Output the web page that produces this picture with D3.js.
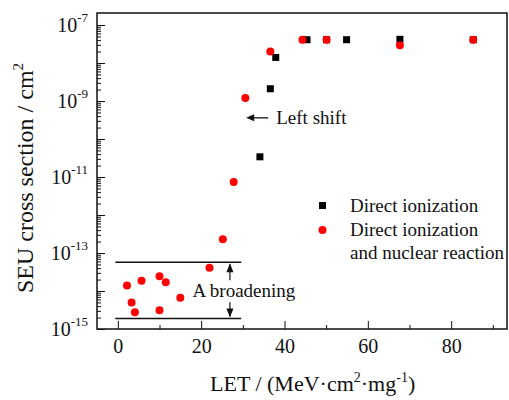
<!DOCTYPE html>
<meta charset="utf-8">
<style>
    body { margin: 0; background: #fff; }
    text {
        font-family: "Liberation Serif", "Times New Roman", serif;
        fill: #111;
    }
    .axis path, .axis line { stroke: #111; }
    .frame { fill: none; stroke: #111; stroke-width: 1.5px; }
</style>
<body>
<svg width="509" height="400"></svg>
</body>
<script src="https://d3js.org/d3.v7.min.js"></script>
<script>

    // direct ionization (black squares)
    var letDirect = [34.1, 36.6, 37.9, 45.4, 50.1, 54.9, 67.7, 85.3];
    var seuDirect = [3.4e-11, 2.1e-9, 1.4e-8, 4.1e-8, 4.1e-8, 4.1e-8, 4.2e-8, 4.1e-8];

    // direct ionization and nuclear reaction (red circles)
    var letNuclear = [2.2, 3.3, 4.1, 5.7, 10.0, 10.0, 11.5, 15.0, 22.0, 25.2, 27.8, 30.6, 36.6, 44.3, 50.1, 67.7, 85.3];
    var seuNuclear = [1.4e-14, 5.0e-15, 2.75e-15, 1.86e-14, 2.45e-14, 3.1e-15, 1.7e-14, 6.6e-15, 4.1e-14, 2.3e-13,
                      7.4e-12, 1.2e-9, 2.0e-8, 4.1e-8, 4.1e-8, 2.95e-8, 4.1e-8];

    var xTicks = [0, 20, 40, 60, 80];
    var xMinorTicks = [10, 30, 50, 70, 90];
    var yLabelExps = [-15, -13, -11, -9, -7];

    // annotations (data units)
    var bandTop = 5.7e-14, bandBottom = 1.9e-15, bandX = [-0.6, 29.6], bandArrowX = 26.9;
    var shiftArrow = {x1: 36.1, x2: 30.8, y: 3.6e-10};

    var svg = d3.select("svg");
    var margin = {left: 97, top: 13, right: 2, bottom: 71};
    var width = 509 - margin.left - margin.right,
        height = 400 - margin.top - margin.bottom;
    var g = svg.append("g").attr("transform", "translate(" + margin.left + "," + margin.top + ")");

    var x = d3.scaleLinear().domain([-5, 93.4]).range([0, width]);
    var y = d3.scaleLog().domain([1e-15, Math.pow(10, -15 + height / 38)]).range([height, 0]);

    // y axis: major ticks each decade, minor 2..9
    var majors = d3.range(-15, -6).map(function (e) { return Math.pow(10, e); });
    var minors = [];
    d3.range(-15, -7).forEach(function (e) {
        for (var m = 2; m < 10; m++) minors.push(m * Math.pow(10, e));
    });
    minors = minors.filter(function (v) { return v <= y.domain()[1]; });

    g.append("g").attr("class", "axis")
        .call(d3.axisLeft(y).tickValues(minors).tickSize(-4).tickFormat(""))
        .call(function (s) { s.select(".domain").remove(); });
    g.append("g").attr("class", "axis")
        .call(d3.axisLeft(y).tickValues(majors).tickSize(-8).tickFormat(""))
        .call(function (s) { s.select(".domain").remove(); });

    var yl = g.append("g").selectAll("text").data(yLabelExps).enter().append("text")
        .attr("x", -9)
        .attr("y", function (d) { return y(Math.pow(10, d)) + 7; })
        .attr("text-anchor", "end")
        .style("font-size", "20px");
    yl.append("tspan").text("10");
    yl.append("tspan").attr("dy", -10).style("font-size", "13px").text(function (d) { return String(d); });

    // x axis: ticks pointing inward
    g.append("g").attr("class", "axis")
        .attr("transform", "translate(0," + height + ")")
        .call(d3.axisBottom(x).tickValues(xMinorTicks).tickSize(-4).tickFormat(""))
        .call(function (s) { s.select(".domain").remove(); });
    g.append("g").attr("class", "axis")
        .attr("transform", "translate(0," + height + ")")
        .call(d3.axisBottom(x).tickValues(xTicks).tickSize(-8).tickPadding(10))
        .call(function (s) {
            s.select(".domain").remove();
            s.selectAll("text").style("font-size", "20px").style("font-family", "Liberation Serif");
        });

    // frame
    g.append("rect").attr("class", "frame").attr("width", width).attr("height", height);

    // broadening band
    var ann = g.append("g").attr("stroke", "#111").attr("stroke-width", 1.5);
    [bandTop, bandBottom].forEach(function (v) {
        ann.append("line").attr("x1", x(bandX[0])).attr("x2", x(bandX[1]))
            .attr("y1", y(v)).attr("y2", y(v));
    });
    ann.append("line").attr("x1", x(bandArrowX)).attr("x2", x(bandArrowX))
        .attr("y1", y(bandTop) + 2).attr("y2", y(bandBottom) - 2).attr("stroke-width", 1.2);
    var ah = g.append("g").attr("fill", "#111");
    ah.append("path").attr("d", "M" + x(bandArrowX) + "," + (y(bandTop) + 1) + "l-3.5,9h7z");
    ah.append("path").attr("d", "M" + x(bandArrowX) + "," + (y(bandBottom) - 1) + "l-3.5,-9h7z");

    g.append("rect").attr("x", x(17.8)).attr("y", y(bandTop) + 18).attr("width", 108).attr("height", 22)
        .attr("fill", "#fff");
    g.append("text").attr("x", x(17.9)).attr("y", y(bandTop) + 35)
        .style("font-size", "19px").text("A broadening");

    // left shift arrow
    g.append("line").attr("x1", x(shiftArrow.x1)).attr("x2", x(shiftArrow.x2) + 6)
        .attr("y1", y(shiftArrow.y)).attr("y2", y(shiftArrow.y))
        .attr("stroke", "#111").attr("stroke-width", 1.3);
    g.append("path").attr("d", "M" + x(shiftArrow.x2) + "," + y(shiftArrow.y) + "l8,-3.5v7z").attr("fill", "#111");
    g.append("text").attr("x", x(shiftArrow.x1) + 8).attr("y", y(shiftArrow.y) + 6)
        .style("font-size", "19px").text("Left shift");

    // points
    g.append("g").selectAll("rect").data(letDirect).enter().append("rect")
        .attr("x", function (d) { return x(d) - 3.5; })
        .attr("y", function (d, i) { return y(seuDirect[i]) - 3.5; })
        .attr("width", 7).attr("height", 7).attr("fill", "#000");
    g.append("g").selectAll("circle").data(letNuclear).enter().append("circle")
        .attr("cx", function (d) { return x(d); })
        .attr("cy", function (d, i) { return y(seuNuclear[i]); })
        .attr("r", 4).attr("fill", "#f00");

    // legend
    var leg = svg.append("g");
    leg.append("rect").attr("x", 319).attr("y", 202).attr("width", 7).attr("height", 7).attr("fill", "#000");
    leg.append("circle").attr("cx", 322.5).attr("cy", 230).attr("r", 4).attr("fill", "#f00");
    leg.append("text").attr("x", 350).attr("y", 212).style("font-size", "19px").text("Direct ionization");
    leg.append("text").attr("x", 350).attr("y", 236).style("font-size", "19px").text("Direct ionization");
    leg.append("text").attr("x", 350).attr("y", 259).style("font-size", "19px").text("and nuclear reaction");

    // axis titles
    var xt = svg.append("text").attr("x", 210).attr("y", 391).style("font-size", "22px");
    xt.append("tspan").text("LET / (MeV\u00b7cm");
    xt.append("tspan").attr("dy", -9).style("font-size", "14px").text("2");
    xt.append("tspan").attr("dy", 9).text("\u00b7mg");
    xt.append("tspan").attr("dy", -9).style("font-size", "14px").text("-1");
    xt.append("tspan").attr("dy", 9).text(")");

    var yt = svg.append("text").attr("transform", "translate(33," + 178 + ") rotate(-90)")
        .attr("text-anchor", "middle").style("font-size", "24px");
    yt.append("tspan").text("SEU cross section / cm");
    yt.append("tspan").attr("dy", -10).style("font-size", "15px").text("2");

</script>
